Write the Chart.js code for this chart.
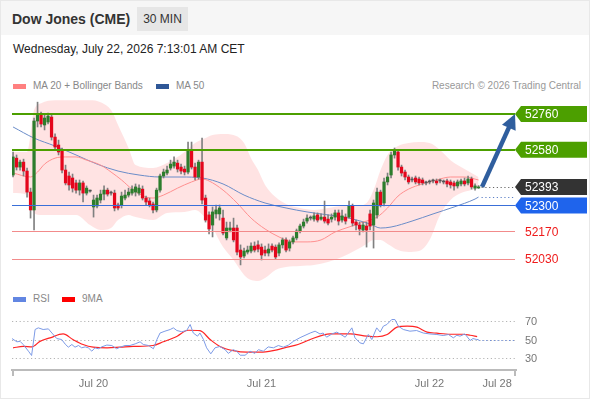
<!DOCTYPE html>
<html lang="en">
<head>
  <meta charset="UTF-8" />
  <title>Dow Jones (CME) | 30 MIN</title>
  <script src="https://cdn.jsdelivr.net/npm/chart.js"></script>
  <style>
    html, body { margin: 0; padding: 0; background: #fff; }
    body { position: relative; width: 590px; height: 400px; overflow: hidden;
           font-family: "Liberation Sans", Arial, Helvetica, sans-serif; }
    .frame { position: absolute; left: 0; top: 0; width: 588px; height: 397px; border: 1px solid #e8e8e8; }
    .topbar { position: absolute; left: 1px; top: 1px; width: 588px; height: 34px; background: #f6f6f6; }
    .name { position: absolute; left: 12px; top: 11px; font-size: 14px; line-height: 16px; font-weight: bold; color: #333; }
    .tf { position: absolute; left: 137px; top: 7px; width: 51px; height: 24px; line-height: 24px;
          text-align: center; font-size: 12px; color: #333; background: #e6e6e6; }
    .stamp { position: absolute; left: 13px; top: 42px; font-size: 12px; line-height: 14px; color: #222; }
    .lg { position: absolute; font-size: 10px; line-height: 12px; color: #888; white-space: nowrap; }
    .key { position: absolute; width: 13px; height: 5px; }
    .credit { position: absolute; right: 9px; top: 80px; font-size: 10px; line-height: 12px; color: #999; }
    canvas { position: absolute; left: 0; }
    #priceChart { top: 96px; }
    #rsiChart { top: 305px; }
  </style>
</head>
<body>
  <div class="frame"></div>
  <div class="topbar"></div>
  <div class="name">Dow Jones (CME)</div>
  <div class="tf">30 MIN</div>
  <div class="stamp">Wednesday, July 22, 2026 7:13:01 AM CET</div>

  <!-- price legend -->
  <div class="key" style="left:13px; top:84px; background:#ff8080;"></div>
  <div class="lg" style="left:33px; top:80px;">MA 20 + Bollinger Bands</div>
  <div class="key" style="left:156px; top:84px; background:#2f5797;"></div>
  <div class="lg" style="left:176px; top:80px;">MA 50</div>
  <div class="credit">Research © 2026 Trading Central</div>

  <!-- rsi legend -->
  <div class="key" style="left:13px; top:297px; background:#6286e2;"></div>
  <div class="lg" style="left:33px; top:293px;">RSI</div>
  <div class="key" style="left:62px; top:297px; background:#ff0000;"></div>
  <div class="lg" style="left:82px; top:293px;">9MA</div>

  <canvas id="priceChart" width="590" height="189"></canvas>
  <canvas id="rsiChart" width="590" height="95"></canvas>

  <script>
    // 30 min bars, index 0 = first bar on the left
    const openP = [
      52453,52538,52493,52518,52473,52367,52277,52725,52755,52705,
      52720,52745,52644,52604,52579,52478,52448,52438,52413,52377,
      52413,52362,52372,52292,52297,52327,52357,52377,52362,52362,
      52302,52302,52337,52352,52362,52367,52362,52382,52337,52322,
      52307,52277,52377,52448,52463,52488,52498,52513,52493,52483,
      52468,52574,52493,52443,52518,52337,52252,52201,52257,52257,
      52236,52136,52176,52186,52186,52075,52045,52065,52070,52095,
      52101,52090,52075,52060,52095,52090,52060,52101,52126,52085,
      52116,52136,52171,52196,52221,52236,52231,52252,52231,52241,
      52231,52231,52241,52262,52226,52241,52241,52297,52216,52201,
      52176,52196,52257,52201,52252,52367,52312,52418,52453,52554,
      52569,52493,52468,52443,52428,52438,52433,52428,52413,52418,
      52423,52423,52423,52418,52423,52418,52413,52398,52408,52423,
      52413,52433,52387,52388
    ];
    const highP = [
      52569,52554,52528,52533,52488,52387,52740,52820,52770,52755,
      52765,52760,52660,52629,52589,52503,52468,52458,52428,52428,
      52423,52398,52377,52352,52352,52377,52398,52387,52372,52377,
      52312,52367,52377,52387,52398,52408,52403,52398,52347,52337,
      52317,52387,52458,52483,52498,52528,52544,52528,52508,52498,
      52619,52619,52513,52528,52639,52352,52267,52292,52302,52302,
      52277,52216,52216,52236,52201,52101,52085,52095,52111,52116,
      52121,52106,52095,52106,52106,52101,52111,52136,52136,52126,
      52146,52181,52206,52231,52252,52247,52262,52262,52257,52322,
      52252,52257,52277,52277,52277,52257,52322,52307,52226,52216,
      52216,52216,52277,52327,52387,52377,52438,52463,52569,52589,
      52579,52503,52478,52453,52443,52448,52443,52438,52423,52428,
      52433,52433,52433,52428,52433,52428,52423,52428,52433,52438,
      52448,52443,52408,52400
    ];
    const lowP = [
      52443,52478,52478,52448,52342,52236,52176,52695,52695,52680,
      52710,52629,52579,52554,52463,52403,52377,52367,52362,52352,
      52317,52352,52367,52241,52287,52312,52327,52347,52352,52272,
      52277,52287,52327,52342,52352,52347,52352,52327,52302,52292,
      52262,52267,52367,52438,52453,52478,52488,52468,52458,52453,
      52458,52483,52428,52433,52307,52216,52156,52141,52236,52226,
      52151,52126,52166,52116,52050,52000,52035,52055,52060,52065,
      52065,52025,52045,52045,52065,52030,52045,52085,52065,52070,
      52106,52126,52161,52186,52211,52226,52221,52216,52226,52211,
      52201,52216,52226,52201,52216,52206,52236,52196,52176,52151,
      52166,52090,52176,52085,52236,52292,52297,52403,52438,52538,
      52478,52448,52428,52408,52418,52408,52403,52403,52403,52408,
      52413,52403,52413,52408,52393,52387,52377,52387,52398,52398,
      52403,52382,52377,52385
    ];
    const closeP = [
      52544,52493,52518,52473,52367,52277,52725,52755,52710,52740,
      52750,52644,52594,52569,52478,52413,52403,52387,52377,52413,
      52362,52387,52372,52327,52337,52357,52377,52357,52362,52287,
      52287,52347,52352,52367,52382,52393,52387,52337,52317,52302,
      52277,52377,52448,52468,52478,52508,52518,52483,52473,52468,
      52574,52493,52443,52518,52327,52226,52181,52267,52277,52287,
      52161,52186,52186,52126,52065,52040,52070,52075,52095,52075,
      52080,52050,52060,52080,52075,52040,52101,52126,52075,52116,
      52136,52171,52196,52216,52236,52236,52247,52226,52241,52221,
      52211,52241,52262,52221,52247,52221,52297,52211,52201,52181,
      52201,52176,52196,52312,52367,52302,52418,52443,52554,52574,
      52493,52463,52443,52418,52428,52418,52413,52413,52413,52418,
      52423,52413,52423,52418,52408,52403,52398,52418,52423,52408,
      52433,52393,52398,52393
    ];

    // indicators, sampled along the bar index
    const ma20Idx = [0,5,7,9,12,15,18,21,25,28,31,34,38,40,43,47,51,54,56,60,64,68,72,76,80,84,88,92,96,100,104,107,110,113,117,121,125,129,133];
    const ma20Val = [52463,52443,52468,52508,52538,52544,52544,52528,52503,52468,52428,52382,52342,52337,52352,52387,52418,52433,52423,52377,52312,52236,52181,52141,52116,52116,52126,52166,52191,52216,52241,52287,52347,52382,52408,52428,52443,52443,52428];
    const ma50Idx = [0,6,12,18,24,30,36,42,48,54,60,66,72,78,84,90,96,102,105,108,114,120,126,132,133];
    const ma50Val = [52695,52639,52599,52554,52508,52473,52453,52443,52443,52438,52408,52352,52312,52287,52267,52252,52236,52206,52186,52191,52221,52257,52292,52332,52342];
    const bandIdx = [0,4,6,8,12,18,22,25,28,30,33,35,40,44,49,52,55,57,60,63,66,68,70,72,75,78,82,86,90,94,98,101,103,105,107,110,113,116,119,122,125,128,131,133];
    const bandUpper = [52569,52569,52780,52815,52830,52830,52830,52820,52780,52705,52589,52503,52488,52513,52569,52614,52639,52654,52659,52654,52614,52538,52478,52403,52342,52307,52287,52277,52287,52297,52297,52312,52377,52478,52554,52599,52614,52619,52614,52579,52528,52493,52463,52443];
    const bandLower = [52362,52352,52262,52252,52252,52252,52201,52176,52186,52226,52252,52241,52226,52262,52267,52277,52236,52186,52090,52025,51950,51924,51919,51934,51975,51990,51995,52000,52015,52040,52075,52106,52126,52126,52106,52075,52065,52070,52126,52252,52327,52362,52377,52387];

    const rsiIdx = [-0.3,1.1,2.0,2.9,4.4,5.3,6.3,7.2,8.6,10.1,11.1,12.5,13.9,14.9,15.8,16.8,17.7,18.7,19.6,20.6,21.5,22.5,23.4,24.4,25.3,26.8,28.2,29.6,30.6,32.0,33.4,34.9,36.3,37.2,38.7,40.1,41.1,42.0,43.4,44.9,45.8,46.8,48.2,49.6,50.6,51.5,52.7,53.4,54.4,55.3,56.5,57.7,59.1,60.6,61.5,62.9,63.9,64.9,66.3,67.7,69.1,70.1,71.5,72.9,74.4,75.8,77.2,78.7,80.1,82.0,84.9,86.3,87.7,88.6,89.6,91.1,92.5,93.4,94.9,96.8,97.7,99.1,100.1,101.5,102.5,103.9,104.9,105.8,106.8,108.2,109.1,110.1,111.5,113.4,115.3,117.2,119.1,121.1,122.9,124.4,125.8,126.8,127.7,129.1,130.6,131.4,132.5,133.0];
    const rsiVal = [51,47.5,48,44.6,37.4,32.7,60.8,62.6,60.8,61.5,57,51,50,45,41.7,44.6,41.7,43.5,41,42,41,37.4,41,40,42,44,43.5,40,41.7,43.5,43.5,45.3,47.5,44.6,43.5,40,50,57,59,60.8,62.6,59.7,58.4,59.7,66.2,57,53.6,57,50,41,34.5,41,42.5,39,35,39,37.4,33,33,37.4,35,39,37.4,42,41,43.5,41.7,44,48,52,57,59,56,57,52.5,56,58,56,52.5,62.6,51.8,46.4,45.3,55.4,50,62.6,58,64.4,66.2,71.6,71.6,64.4,60.8,59,59.7,57,56,55.4,54.3,55.4,51.8,54.6,53.6,56,49,51,50,50];
    const rsiMaIdx = [0,2.9,5.4,7.7,10.6,14.3,17.1,20,22.9,26.9,30.6,34.3,40,42.9,46.9,50,53.4,56.3,59.1,62.9,66.9,70.6,74.3,78.3,81.4,84.9,90.6,96.3,101.1,104,106.9,109.7,112.6,115.4,118.3,121.1,124.9,128.6,130.6,132.6];
    const rsiMaVal = [41,42.5,42,48,51.8,56,50,44.6,41.7,41,41.7,42.5,43.5,47.5,53.6,60,59.5,50,42.5,38,36.3,36.3,38,41.7,44.6,50,56,56,53.6,53,55.4,63.3,64.4,63.3,58,56.8,55.7,55.7,54.6,53.2];

    // key levels and axis labels
    const levels = [52760, 52580, 52300, 52170, 52030];
    const lastPrice = 52393;
    const tickPos = [23, 71, 119, 138.3];
    const tickLabels = ['Jul 20', 'Jul 21', 'Jul 22', 'Jul 28'];
    const rsiTicks = [30, 50, 70];

    // styles
    const FONT = '"Liberation Sans", Arial, sans-serif';
    Chart.defaults.font.family = FONT;
    const UP = '#2d7d2d', DOWN = '#e4061c', FLAT = '#555', WICK = '#808080';
    const levelStyle = [
      { line: '#4c9f00', width: 2, box: '#4c9f00' },
      { line: '#4c9f00', width: 2, box: '#4c9f00' },
      { line: '#3a6fd8', width: 1, box: '#1f64ec' },
      { line: '#f28b8b', width: 1, text: '#ef1a1a' },
      { line: '#f28b8b', width: 1, text: '#ef1a1a' }
    ];
    const X_MIN = -0.3, X_MAX = 143.7;

    const pts = (xs, ys) => xs.map((v, i) => ({ x: v, y: ys[i] }));
    const bodies = openP.map((o, i) => ({ x: i, y: [o, closeP[i]] }));
    const wicks = openP.map((o, i) => ({ x: i, y: [lowP[i], highP[i]] }));
    const bodyColors = openP.map((o, i) => closeP[i] > o ? UP : (closeP[i] < o ? DOWN : FLAT));

    function dotted(ctx, x0, x1, y, color) {
      ctx.save();
      ctx.strokeStyle = color;
      ctx.lineWidth = 1.2;
      ctx.setLineDash([1.2, 2.6]);
      ctx.beginPath();
      ctx.moveTo(x0, Math.round(y) + 0.5);
      ctx.lineTo(x1, Math.round(y) + 0.5);
      ctx.stroke();
      ctx.restore();
    }

    function tag(ctx, tip, y, text, box, textColor) {
      const h = 16, x0 = tip + 6, x1 = 587;
      if (box) {
        ctx.fillStyle = box;
        ctx.beginPath();
        ctx.moveTo(tip, y);
        ctx.lineTo(x0, y - h / 2);
        ctx.lineTo(x1, y - h / 2);
        ctx.lineTo(x1, y + h / 2);
        ctx.lineTo(x0, y + h / 2);
        ctx.closePath();
        ctx.fill();
      }
      ctx.fillStyle = textColor;
      ctx.font = '12px ' + FONT;
      ctx.textBaseline = 'middle';
      ctx.textAlign = 'left';
      ctx.fillText(text, tip + 10, y + 1);
    }

    const priceOverlay = {
      id: 'priceOverlay',
      afterDatasetsDraw(chart) {
        const { ctx, chartArea: a, scales: { x, y } } = chart;
        const tip = a.right - 1;
        const last = openP.length - 1;
        ctx.save();

        levels.forEach((v, i) => {
          const s = levelStyle[i];
          const py = Math.round(y.getPixelForValue(v)) + (s.width % 2 ? 0.5 : 0);
          ctx.strokeStyle = s.line;
          ctx.lineWidth = s.width;
          ctx.beginPath();
          ctx.moveTo(a.left, py);
          ctx.lineTo(tip, py);
          ctx.stroke();
        });

        const xs = x.getPixelForValue(last) + 3;
        dotted(ctx, xs, tip, y.getPixelForValue(lastPrice), '#666');
        dotted(ctx, xs, tip, y.getPixelForValue(ma50Val[ma50Val.length - 1]), '#5b7fc6');

        // projection arrow towards the first target
        const ax = x.getPixelForValue(last + 1), ay = y.getPixelForValue(lastPrice);
        const bx = tip, by = y.getPixelForValue(levels[0]);
        const len = Math.hypot(bx - ax, by - ay);
        const ux = (bx - ax) / len, uy = (by - ay) / len;
        const hl = 15, hw = 7.5;
        const cx = bx - ux * hl, cy = by - uy * hl;
        ctx.strokeStyle = '#2f5e9e';
        ctx.fillStyle = '#2f5e9e';
        ctx.lineWidth = 4.5;
        ctx.lineCap = 'butt';
        ctx.beginPath();
        ctx.moveTo(ax, ay);
        ctx.lineTo(cx + ux * 2, cy + uy * 2);
        ctx.stroke();
        ctx.beginPath();
        ctx.moveTo(bx, by);
        ctx.lineTo(cx - uy * hw, cy + ux * hw);
        ctx.lineTo(cx + uy * hw, cy - ux * hw);
        ctx.closePath();
        ctx.fill();

        levels.forEach((v, i) => {
          const s = levelStyle[i];
          tag(ctx, tip, y.getPixelForValue(v), String(v), s.box, s.box ? '#fff' : s.text);
        });
        tag(ctx, tip, y.getPixelForValue(lastPrice), String(lastPrice), '#333', '#fff');
        ctx.restore();
      }
    };

    new Chart(document.getElementById('priceChart'), {
      type: 'bar',
      data: {
        datasets: [
          { data: bodies, backgroundColor: bodyColors, barThickness: 2.6, minBarLength: 1,
            grouped: false, borderWidth: 0, order: 1 },
          { data: wicks, backgroundColor: WICK, barThickness: 1, grouped: false,
            borderWidth: 0, order: 2 },
          { type: 'line', data: pts(ma20Idx, ma20Val), borderColor: '#ff8f8f', borderWidth: 1,
            pointRadius: 0, tension: 0.4, cubicInterpolationMode: 'monotone', fill: false, order: 3 },
          { type: 'line', data: pts(ma50Idx, ma50Val), borderColor: '#6a8cc8', borderWidth: 1,
            pointRadius: 0, tension: 0.4, cubicInterpolationMode: 'monotone', fill: false, order: 4 },
          { type: 'line', data: pts(bandIdx, bandUpper), borderColor: 'rgba(0,0,0,0)', borderWidth: 0,
            pointRadius: 0, tension: 0.4, cubicInterpolationMode: 'monotone',
            fill: '+1', backgroundColor: 'rgba(255,0,0,0.11)', order: 5 },
          { type: 'line', data: pts(bandIdx, bandLower), borderColor: 'rgba(0,0,0,0)', borderWidth: 0,
            pointRadius: 0, tension: 0.4, cubicInterpolationMode: 'monotone', fill: false, order: 6 }
        ]
      },
      options: {
        responsive: false,
        animation: false,
        layout: { padding: { left: 12, right: 74, top: 0, bottom: 0 } },
        plugins: { legend: { display: false }, tooltip: { enabled: false } },
        scales: {
          x: { type: 'linear', min: X_MIN, max: X_MAX, offset: false, display: false },
          y: { min: 51899, max: 52851, display: false }
        }
      },
      plugins: [priceOverlay]
    });

    const rsiOverlay = {
      id: 'rsiOverlay',
      beforeDatasetsDraw(chart) {
        const { ctx, chartArea: a, scales: { y } } = chart;
        rsiTicks.forEach(v => dotted(ctx, a.left, a.right - 1, y.getPixelForValue(v), '#b5b5b5'));
        ctx.save();
        ctx.fillStyle = '#777';
        ctx.font = '11px ' + FONT;
        ctx.textAlign = 'left';
        ctx.textBaseline = 'middle';
        rsiTicks.forEach(v => ctx.fillText(String(v), a.right + 9, y.getPixelForValue(v) + 1));
        ctx.restore();
      },
      afterDatasetsDraw(chart) {
        const { ctx, chartArea: a, scales: { x, y } } = chart;
        const lastX = rsiIdx[rsiIdx.length - 1];
        dotted(ctx, x.getPixelForValue(lastX), a.right - 1, y.getPixelForValue(rsiVal[rsiVal.length - 1]), '#6f8fdc');
        ctx.save();
        ctx.strokeStyle = '#bbb';
        ctx.lineWidth = 2;
        ctx.beginPath();
        ctx.moveTo(a.left + 1, a.bottom);
        ctx.lineTo(a.left + 1, a.bottom + 6);
        ctx.moveTo(a.right - 1, a.bottom);
        ctx.lineTo(a.right - 1, a.bottom + 6);
        ctx.stroke();
        ctx.restore();
      }
    };

    new Chart(document.getElementById('rsiChart'), {
      type: 'line',
      data: {
        datasets: [
          { data: pts(rsiIdx, rsiVal), borderColor: '#7c9ae6', borderWidth: 1, pointRadius: 0, tension: 0 },
          { data: pts(rsiMaIdx, rsiMaVal), borderColor: '#ff2424', borderWidth: 1.2, pointRadius: 0,
            tension: 0.4, cubicInterpolationMode: 'monotone' }
        ]
      },
      options: {
        responsive: false,
        animation: false,
        layout: { padding: { left: 12, right: 74, top: 5, bottom: 0 } },
        plugins: { legend: { display: false }, tooltip: { enabled: false } },
        scales: {
          x: {
            type: 'linear', min: X_MIN, max: X_MAX, offset: false,
            grid: { display: false, drawTicks: false },
            border: { display: true, color: '#bbb', width: 2 },
            afterBuildTicks: s => { s.ticks = tickPos.map(v => ({ value: v })); },
            afterFit: s => { s.height = 30; },
            ticks: { autoSkip: false, maxRotation: 0, padding: 7, color: '#777', font: { size: 11 },
                     callback: (v, i) => tickLabels[i] }
          },
          y: { min: 17.03, max: 81.89, display: false }
        }
      },
      plugins: [rsiOverlay]
    });
  </script>
</body>
</html>
